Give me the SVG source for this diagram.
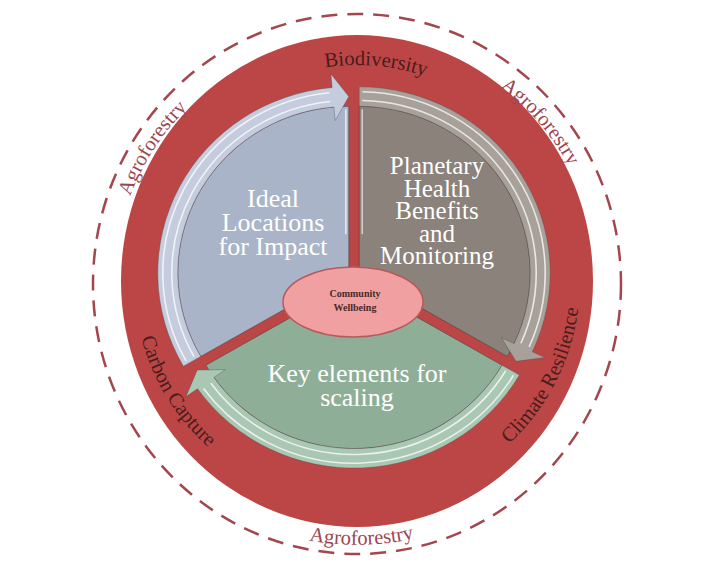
<svg xmlns="http://www.w3.org/2000/svg" width="707" height="567" viewBox="0 0 707 567">
<defs>
<style>
.ring{font-family:"Liberation Serif","Times New Roman",serif;font-size:20.5px;fill:#4a1c1c;}
.agro{font-family:"Liberation Serif","Times New Roman",serif;font-size:20.5px;fill:#9b4651;}
.sec{font-family:"Liberation Serif","Times New Roman",serif;font-size:26px;fill:#ffffff;text-anchor:middle;}
.sec2{font-family:"Liberation Serif","Times New Roman",serif;font-size:25px;fill:#ffffff;text-anchor:middle;}
.fillline{stroke:#3a3a3a;stroke-opacity:0.55;stroke-width:0.9;}
.band{stroke:#4a4a4a;stroke-opacity:0.45;stroke-width:0.8;}
.hl{fill:none;stroke:#ffffff;stroke-opacity:0.75;stroke-width:1.6;}
</style>
<path id="tp-bio" d="M148.4,225.1 A216,216 0 0 1 572.2,262.2"/>
<path id="tp-agro-ur" d="M232.9,74.4 A241,241 0 0 1 544.3,432.7"/>
<path id="tp-agro-ul" d="M192.0,458.0 A242,242 0 0 1 451.6,58.2"/>
<path id="tp-agro-b" d="M97.9,331.4 A264,264 0 0 0 617.7,322.3"/>
<path id="tp-carbon" d="M209.2,114.0 A223,223 0 0 0 438.7,488.5"/>
<path id="tp-climate" d="M291.8,494.2 A223,223 0 0 0 491.2,102.9"/>
</defs>
<rect width="707" height="567" fill="#ffffff"/>
<g id="outer-ring">
<ellipse cx="357" cy="284" rx="264" ry="270" fill="none" stroke="#a3464d" stroke-width="2.5" stroke-dasharray="16 10"/>
<ellipse cx="357" cy="281" rx="236" ry="246" fill="#bc4646"/>
</g>
<g id="pie" transform="translate(354 276) scale(1 0.975)">
<g id="ideal-locations" transform="translate(-5.2 -3)">
<path d="M0,0 L-148.09,85.5 A171,171 0 0 1 0,-171 Z" fill="#aab4c8" class="fillline"/>
<path d="M-148.09,85.5 L-165.41,95.5 A191,191 0 0 1 -16.65,-190.27 L-17.87,-204.22 L0,-181 L-13.68,-156.4 L-14.9,-170.35 A171,171 0 0 0 -148.09,85.5 Z" fill="#c4ccdd" class="band"/>
<path class="hl" d="M-162.68,90.17 A186,186 0 0 1 -19.44,-184.98"/>
<path class="hl" d="M-154.81,85.81 A177,177 0 0 1 -18.5,-176.03"/>
<line x1="-3" y1="-40" x2="-3" y2="-168" stroke="#ffffff" stroke-opacity="0.7" stroke-width="1.6"/>
</g>
<g id="planetary-health" transform="translate(5.2 -3)">
<path d="M0,0 L0,-171 A171,171 0 0 1 148.09,85.5 Z" fill="#8a827b" class="fillline"/>
<path d="M0,-171 L0,-191 A191,191 0 0 1 173.1,80.72 L185.79,86.64 L156.75,90.5 L142.29,66.35 L154.98,72.27 A171,171 0 0 0 0,-171 Z" fill="#a7a19a" class="band"/>
<path class="hl" d="M3.25,-185.97 A186,186 0 0 1 169.92,75.65"/>
<path class="hl" d="M3.09,-176.97 A177,177 0 0 1 161.7,71.99"/>
<line x1="3" y1="-40" x2="3" y2="-168" stroke="#ffffff" stroke-opacity="0.6" stroke-width="1.6"/>
</g>
<g id="key-elements" transform="translate(0 6)">
<path d="M0,0 L148.09,85.5 A171,171 0 0 1 -148.09,85.5 Z" fill="#8fae98" class="fillline"/>
<path d="M148.09,85.5 L165.41,95.5 A191,191 0 0 1 -156.46,109.55 L-167.93,117.58 L-156.75,90.5 L-128.61,90.05 L-140.07,98.08 A171,171 0 0 0 148.09,85.5 Z" fill="#a9c7b2" class="band"/>
<path class="hl" d="M159.43,95.8 A186,186 0 0 1 -150.48,109.33"/>
<path class="hl" d="M151.72,91.16 A177,177 0 0 1 -143.2,104.04"/>
</g>
</g>
<g id="sector-labels">
<text class="sec"><tspan x="273" y="207">Ideal</tspan><tspan x="273" y="231">Locations</tspan><tspan x="273" y="255">for Impact</tspan></text>
<text class="sec2"><tspan x="437" y="174">Planetary</tspan><tspan x="437" y="197">Health</tspan><tspan x="437" y="219">Benefits</tspan><tspan x="437" y="242">and</tspan><tspan x="437" y="264">Monitoring</tspan></text>
<text class="sec"><tspan x="357" y="382">Key elements for</tspan><tspan x="357" y="406">scaling</tspan></text>
</g>
<g id="community-wellbeing">
<ellipse cx="353" cy="302" rx="70" ry="35" fill="#f0a0a0" stroke="#b85a5a" stroke-width="1.5"/>
<text font-family="Liberation Serif, Times New Roman, serif" font-size="10" font-weight="bold" fill="#4a2a2a" text-anchor="middle"><tspan x="355" y="297">Community</tspan><tspan x="355" y="311">Wellbeing</tspan></text>
</g>
<g id="ring-labels">
<text class="ring" text-anchor="middle"><textPath href="#tp-bio" startOffset="50%">Biodiversity</textPath></text>
<text class="ring" text-anchor="middle"><textPath href="#tp-carbon" startOffset="50%">Carbon Capture</textPath></text>
<text class="ring" text-anchor="middle"><textPath href="#tp-climate" startOffset="50%">Climate Resilience</textPath></text>
<text class="agro" text-anchor="middle"><textPath href="#tp-agro-ur" startOffset="50%">Agroforestry</textPath></text>
<text class="agro" text-anchor="middle"><textPath href="#tp-agro-ul" startOffset="50%">Agroforestry</textPath></text>
<text class="agro" text-anchor="middle"><textPath href="#tp-agro-b" startOffset="50%">Agroforestry</textPath></text>
</g>
</svg>
